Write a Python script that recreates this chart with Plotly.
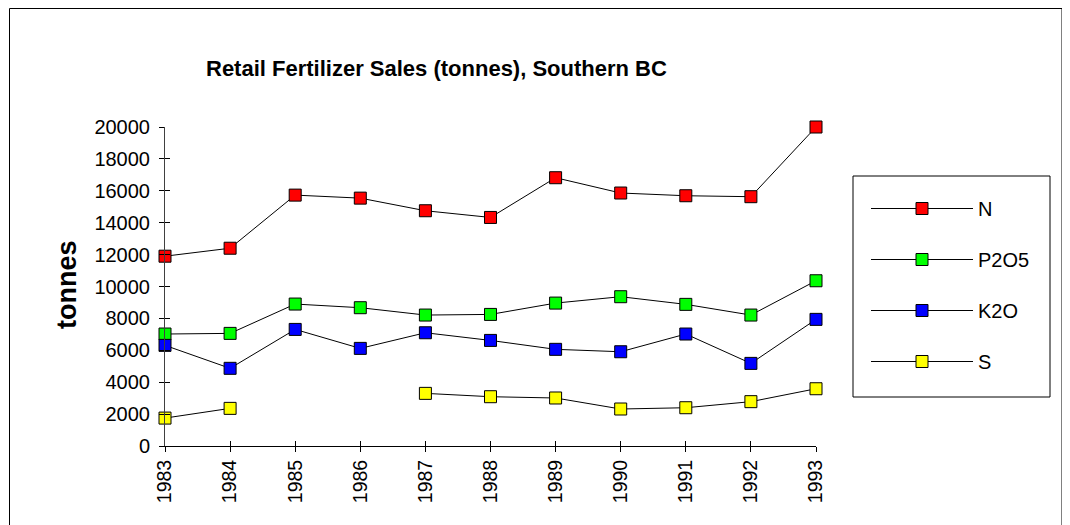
import plotly.graph_objects as go

years = [1983, 1984, 1985, 1986, 1987, 1988, 1989, 1990, 1991, 1992, 1993]
n_vals = [11900, 12400, 15730, 15540, 14750, 14330, 16820, 15860, 15690, 15630, 20000]
p2o5_vals = [7020, 7060, 8900, 8670, 8210, 8250, 8960, 9360, 8880, 8210, 10360]
k2o_vals = [6310, 4870, 7310, 6120, 7100, 6620, 6060, 5910, 7020, 5180, 7940]
s_vals = [1750, 2360, None, None, 3300, 3090, 3010, 2320, 2400, 2780, 3590]

series = [
    ("N", n_vals, "#FF0000"),
    ("P2O5", p2o5_vals, "#00FF00"),
    ("K2O", k2o_vals, "#0000FF"),
    ("S", s_vals, "#FFFF00"),
]

FONT = "Liberation Sans, Arial, sans-serif"
OFF = 8  # page body margin

# target screen pixels of the plot area
PX0, PX1, PY0, PY1 = 165, 816, 127, 446


def px(x):
    return (x - PX0) / (PX1 - PX0)


def py(y):
    return (PY1 - y) / (PY1 - PY0)


fig = go.Figure()
for name, vals, color in series:
    fig.add_trace(go.Scatter(
        x=years, y=vals, name=name, mode="lines+markers",
        line=dict(color="black", width=1),
        marker=dict(symbol="square", size=12, color=color,
                    line=dict(color="black", width=1)),
        connectgaps=False, cliponaxis=False,
        legendgroup=name,
    ))

# helper trace to show crossing (inside) ticks on overlay axes
fig.add_trace(go.Scatter(x=[None], y=[None], xaxis="x2", yaxis="y2",
                         showlegend=False, hoverinfo="skip"))

W, H = 1070, 525
L, R, T, B = PX0 - OFF, W - (PX1 - OFF), PY0 - OFF, H - (PY1 - OFF)

fig.update_layout(
    width=W, height=H,
    margin=dict(l=L, r=R, t=T, b=B, autoexpand=False),
    paper_bgcolor="white", plot_bgcolor="white",
    font=dict(family=FONT, color="black", size=20),
    showlegend=True,
    legend=dict(
        x=px(866), y=py(189),
        xanchor="left", yanchor="top",
        borderwidth=0,
        font=dict(size=20, family=FONT),
        itemwidth=102, tracegroupgap=22,
        bgcolor="rgba(0,0,0,0)",
    ),
    xaxis=dict(
        range=[1983, 1993], tickmode="array", tickvals=years,
        ticktext=[str(y) for y in years], tickangle=-90,
        showgrid=False, zeroline=False, showline=True,
        linecolor="black", linewidth=1, ticks="outside", ticklen=5,
        tickcolor="black", tickfont=dict(size=19.5),
    ),
    yaxis=dict(
        range=[0, 20000], tickmode="linear", dtick=2000, tick0=0,
        tickformat="d",
        showgrid=False, zeroline=False, showline=True,
        linecolor="#404040", linewidth=1, ticks="outside", ticklen=5,
        tickcolor="black", tickfont=dict(size=20), ticklabelstandoff=5,
    ),
    xaxis2=dict(
        overlaying="x", range=[1983, 1993], tickmode="array", tickvals=years,
        showticklabels=False, showgrid=False, zeroline=False, showline=False,
        ticks="inside", ticklen=5, tickcolor="black", side="bottom",
    ),
    yaxis2=dict(
        overlaying="y", range=[0, 20000], tickmode="linear", dtick=2000,
        tick0=0, showticklabels=False, showgrid=False, zeroline=False,
        showline=False, ticks="inside", ticklen=5, tickcolor="black",
        side="left",
    ),
    annotations=[
        dict(text="<b>Retail Fertilizer Sales (tonnes), Southern BC</b>",
             xref="paper", yref="paper",
             x=px(436), y=py(68),
             xanchor="center", yanchor="middle", showarrow=False,
             font=dict(size=22, family=FONT)),
        dict(text="<b>tonnes</b>", xref="paper", yref="paper",
             x=px(67), y=py(285),
             xanchor="center", yanchor="middle", showarrow=False,
             textangle=-90, font=dict(size=27, family=FONT)),
    ],
    shapes=[
        dict(type="rect", xref="paper", yref="paper",
             x0=px(9.5), x1=px(1062), y0=py(540), y1=py(8.5),
             line=dict(color="black", width=1), fillcolor="rgba(0,0,0,0)",
             layer="below"),
        dict(type="rect", xref="paper", yref="paper",
             x0=px(853), x1=px(1050), y0=py(397), y1=py(176),
             line=dict(color="black", width=1), fillcolor="rgba(0,0,0,0)",
             layer="below"),
    ],
)

fig.write_html("out.html")
